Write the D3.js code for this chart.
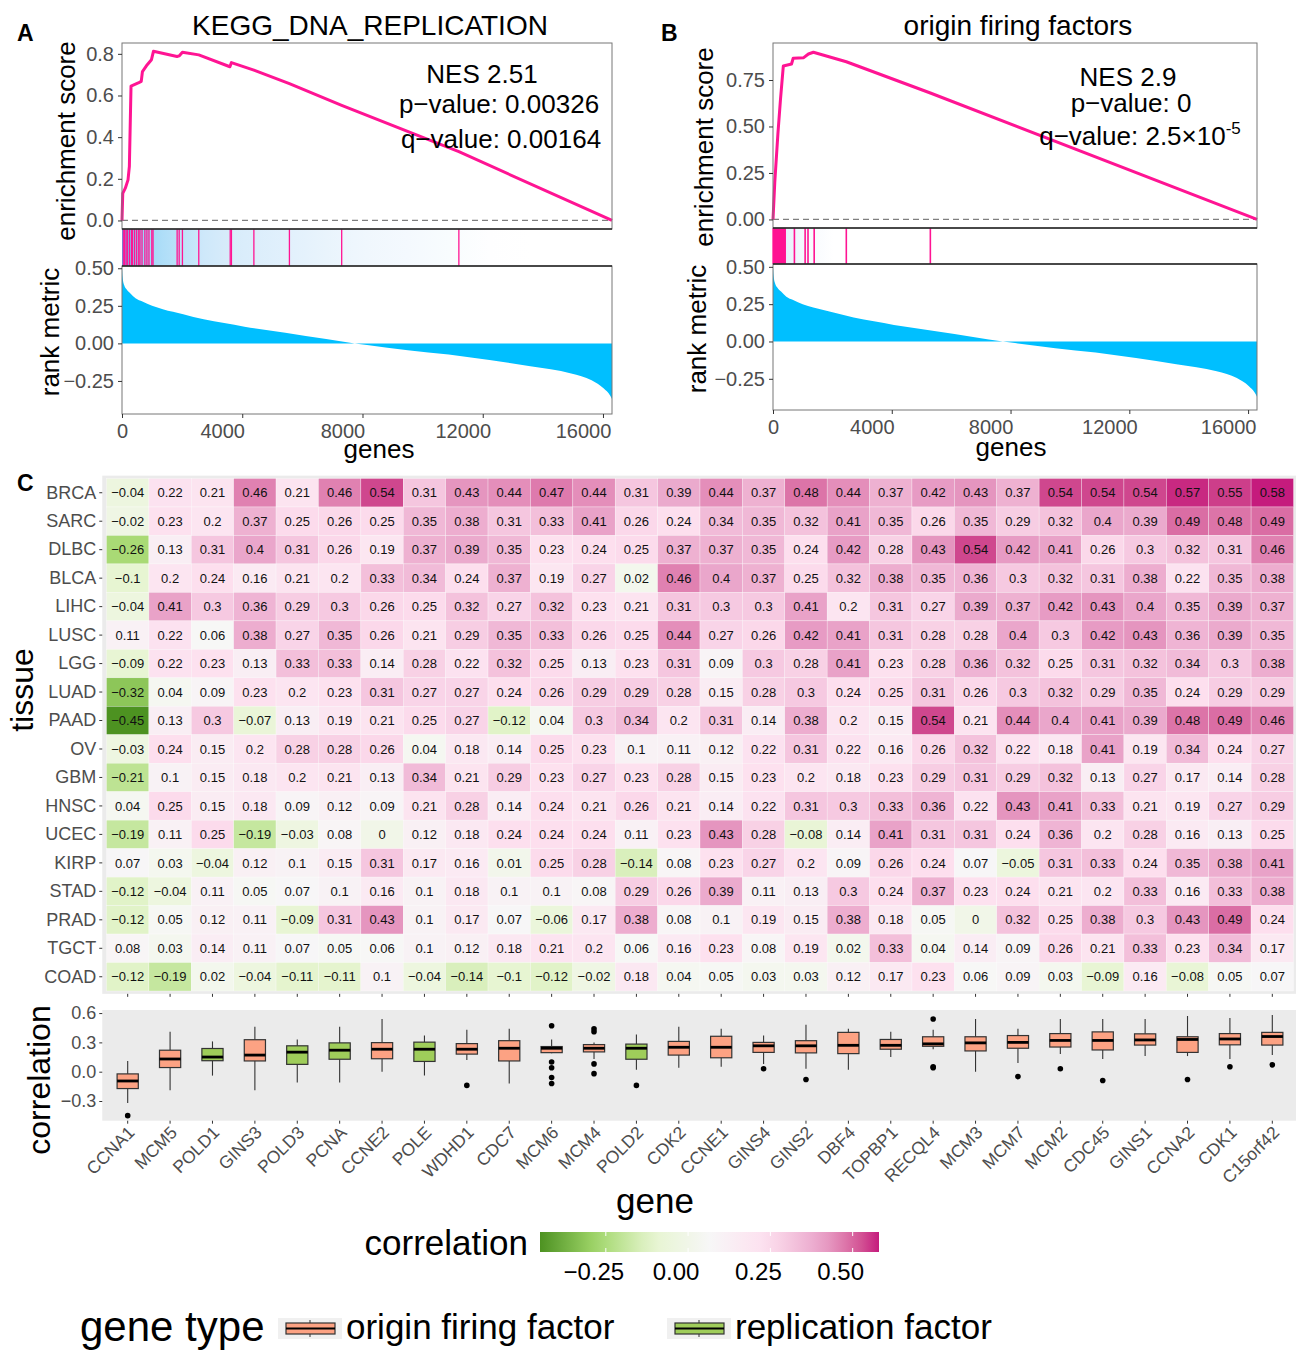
<!DOCTYPE html>
<html>
<head>
<meta charset="utf-8">
<script src="https://cdn.jsdelivr.net/npm/d3@7/dist/d3.min.js"></script>
<style>
  body { margin: 0; background: #fff; }
  text { font-family: "Liberation Sans", Arial, Helvetica, sans-serif; }
</style>
</head>
<body>
<script>
(function() {

    var totalGenes = 16300;

    var rankGene  = [0, 20, 68, 150, 272, 450, 679, 1000, 1358, 2037, 2717, 3400, 4075, 5433, 6792, 7742, 8150, 9508, 10867, 12225, 13583, 14942, 15621, 16028, 16232, 16300];
    var rankValue = [0.5, 0.44, 0.39, 0.36, 0.334, 0.30, 0.278, 0.25, 0.227, 0.194, 0.16, 0.135, 0.111, 0.071, 0.029, 0.0, -0.011, -0.045, -0.074, -0.111, -0.152, -0.2, -0.245, -0.3, -0.345, -0.37];

    var esGeneA  = [0, 25, 110, 200, 245, 300, 540, 640, 680, 840, 980, 1046, 1830, 1900, 2010, 2554, 3590, 3640, 4387, 5569, 7308, 11206, 16300];
    var esValueA = [0, 0.13, 0.155, 0.195, 0.26, 0.645, 0.66, 0.668, 0.715, 0.748, 0.772, 0.812, 0.787, 0.79, 0.808, 0.795, 0.738, 0.758, 0.722, 0.657, 0.553, 0.33, 0.0];
    var hitsA    = [41, 82, 136, 177, 245, 312, 353, 421, 489, 557, 598, 666, 761, 829, 897, 992, 1032, 1834, 1902, 2010, 2554, 3600, 3640, 4387, 5569, 7308, 11206];
    var statsA   = ['NES 2.51', 'p\u2212value: 0.00326', 'q\u2212value: 0.00164'];

    var esGeneB  = [0, 60, 166, 250, 347, 624, 680, 1034, 1193, 1360, 2469, 5299, 16300];
    var esValueB = [0, 0.2, 0.463, 0.642, 0.825, 0.836, 0.867, 0.870, 0.89, 0.899, 0.848, 0.68, 0.0];
    var hitsB    = [5, 30, 55, 80, 105, 130, 155, 180, 205, 230, 255, 280, 305, 330, 355, 380, 410, 721, 1082, 1179, 1387, 2469, 5299];
    var statsB   = ['NES 2.9', 'p\u2212value: 0', 'q\u2212value: 2.5\u00d710'];

    var geneTicks = [0, 4000, 8000, 12000, 16000];

    //  Correlation heatmap data (panel C)
    var genes = ['CCNA1', 'MCM5', 'POLD1', 'GINS3', 'POLD3', 'PCNA', 'CCNE2', 'POLE', 'WDHD1', 'CDC7', 'MCM6', 'MCM4', 'POLD2', 'CDK2',
                 'CCNE1', 'GINS4', 'GINS2', 'DBF4', 'TOPBP1', 'RECQL4', 'MCM3', 'MCM7', 'MCM2', 'CDC45', 'GINS1', 'CCNA2', 'CDK1', 'C15orf42'];
    var replicationFactors = ['POLD1', 'POLD3', 'PCNA', 'POLE', 'POLD2'];
    var tissues = ['BRCA', 'SARC', 'DLBC', 'BLCA', 'LIHC', 'LUSC', 'LGG', 'LUAD', 'PAAD', 'OV', 'GBM', 'HNSC', 'UCEC', 'KIRP', 'STAD', 'PRAD', 'TGCT', 'COAD'];

    var rowBRCA = [-0.04, 0.22, 0.21, 0.46, 0.21, 0.46, 0.54, 0.31, 0.43, 0.44, 0.47, 0.44, 0.31, 0.39, 0.44, 0.37, 0.48, 0.44, 0.37, 0.42, 0.43, 0.37, 0.54, 0.54, 0.54, 0.57, 0.55, 0.58];
    var rowSARC = [-0.02, 0.23, 0.2, 0.37, 0.25, 0.26, 0.25, 0.35, 0.38, 0.31, 0.33, 0.41, 0.26, 0.24, 0.34, 0.35, 0.32, 0.41, 0.35, 0.26, 0.35, 0.29, 0.32, 0.4, 0.39, 0.49, 0.48, 0.49];
    var rowDLBC = [-0.26, 0.13, 0.31, 0.4, 0.31, 0.26, 0.19, 0.37, 0.39, 0.35, 0.23, 0.24, 0.25, 0.37, 0.37, 0.35, 0.24, 0.42, 0.28, 0.43, 0.54, 0.42, 0.41, 0.26, 0.3, 0.32, 0.31, 0.46];
    var rowBLCA = [-0.1, 0.2, 0.24, 0.16, 0.21, 0.2, 0.33, 0.34, 0.24, 0.37, 0.19, 0.27, 0.02, 0.46, 0.4, 0.37, 0.25, 0.32, 0.38, 0.35, 0.36, 0.3, 0.32, 0.31, 0.38, 0.22, 0.35, 0.38];
    var rowLIHC = [-0.04, 0.41, 0.3, 0.36, 0.29, 0.3, 0.26, 0.25, 0.32, 0.27, 0.32, 0.23, 0.21, 0.31, 0.3, 0.3, 0.41, 0.2, 0.31, 0.27, 0.39, 0.37, 0.42, 0.43, 0.4, 0.35, 0.39, 0.37];
    var rowLUSC = [0.11, 0.22, 0.06, 0.38, 0.27, 0.35, 0.26, 0.21, 0.29, 0.35, 0.33, 0.26, 0.25, 0.44, 0.27, 0.26, 0.42, 0.41, 0.31, 0.28, 0.28, 0.4, 0.3, 0.42, 0.43, 0.36, 0.39, 0.35];
    var rowLGG  = [-0.09, 0.22, 0.23, 0.13, 0.33, 0.33, 0.14, 0.28, 0.22, 0.32, 0.25, 0.13, 0.23, 0.31, 0.09, 0.3, 0.28, 0.41, 0.23, 0.28, 0.36, 0.32, 0.25, 0.31, 0.32, 0.34, 0.3, 0.38];
    var rowLUAD = [-0.32, 0.04, 0.09, 0.23, 0.2, 0.23, 0.31, 0.27, 0.27, 0.24, 0.26, 0.29, 0.29, 0.28, 0.15, 0.28, 0.3, 0.24, 0.25, 0.31, 0.26, 0.3, 0.32, 0.29, 0.35, 0.24, 0.29, 0.29];
    var rowPAAD = [-0.45, 0.13, 0.3, -0.07, 0.13, 0.19, 0.21, 0.25, 0.27, -0.12, 0.04, 0.3, 0.34, 0.2, 0.31, 0.14, 0.38, 0.2, 0.15, 0.54, 0.21, 0.44, 0.4, 0.41, 0.39, 0.48, 0.49, 0.46];
    var rowOV   = [-0.03, 0.24, 0.15, 0.2, 0.28, 0.28, 0.26, 0.04, 0.18, 0.14, 0.25, 0.23, 0.1, 0.11, 0.12, 0.22, 0.31, 0.22, 0.16, 0.26, 0.32, 0.22, 0.18, 0.41, 0.19, 0.34, 0.24, 0.27];
    var rowGBM  = [-0.21, 0.1, 0.15, 0.18, 0.2, 0.21, 0.13, 0.34, 0.21, 0.29, 0.23, 0.27, 0.23, 0.28, 0.15, 0.23, 0.2, 0.18, 0.23, 0.29, 0.31, 0.29, 0.32, 0.13, 0.27, 0.17, 0.14, 0.28];
    var rowHNSC = [0.04, 0.25, 0.15, 0.18, 0.09, 0.12, 0.09, 0.21, 0.28, 0.14, 0.24, 0.21, 0.26, 0.21, 0.14, 0.22, 0.31, 0.3, 0.33, 0.36, 0.22, 0.43, 0.41, 0.33, 0.21, 0.19, 0.27, 0.29];
    var rowUCEC = [-0.19, 0.11, 0.25, -0.19, -0.03, 0.08, 0, 0.12, 0.18, 0.24, 0.24, 0.24, 0.11, 0.23, 0.43, 0.28, -0.08, 0.14, 0.41, 0.31, 0.31, 0.24, 0.36, 0.2, 0.28, 0.16, 0.13, 0.25];
    var rowKIRP = [0.07, 0.03, -0.04, 0.12, 0.1, 0.15, 0.31, 0.17, 0.16, 0.01, 0.25, 0.28, -0.14, 0.08, 0.23, 0.27, 0.2, 0.09, 0.26, 0.24, 0.07, -0.05, 0.31, 0.33, 0.24, 0.35, 0.38, 0.41];
    var rowSTAD = [-0.12, -0.04, 0.11, 0.05, 0.07, 0.1, 0.16, 0.1, 0.18, 0.1, 0.1, 0.08, 0.29, 0.26, 0.39, 0.11, 0.13, 0.3, 0.24, 0.37, 0.23, 0.24, 0.21, 0.2, 0.33, 0.16, 0.33, 0.38];
    var rowPRAD = [-0.12, 0.05, 0.12, 0.11, -0.09, 0.31, 0.43, 0.1, 0.17, 0.07, -0.06, 0.17, 0.38, 0.08, 0.1, 0.19, 0.15, 0.38, 0.18, 0.05, 0, 0.32, 0.25, 0.38, 0.3, 0.43, 0.49, 0.24];
    var rowTGCT = [0.08, 0.03, 0.14, 0.11, 0.07, 0.05, 0.06, 0.1, 0.12, 0.18, 0.21, 0.2, 0.06, 0.16, 0.23, 0.08, 0.19, 0.02, 0.33, 0.04, 0.14, 0.09, 0.26, 0.21, 0.33, 0.23, 0.34, 0.17];
    var rowCOAD = [-0.12, -0.19, 0.02, -0.04, -0.11, -0.11, 0.1, -0.04, -0.14, -0.1, -0.12, -0.02, 0.18, 0.04, 0.05, 0.03, 0.03, 0.12, 0.17, 0.23, 0.06, 0.09, 0.03, -0.09, 0.16, -0.08, 0.05, 0.07];

    var tissueRows = [rowBRCA, rowSARC, rowDLBC, rowBLCA, rowLIHC, rowLUSC, rowLGG, rowLUAD, rowPAAD,
                      rowOV, rowGBM, rowHNSC, rowUCEC, rowKIRP, rowSTAD, rowPRAD, rowTGCT, rowCOAD];

    var corTicks = [-0.25, 0, 0.25, 0.5];
    var boxTicks = [-0.3, 0, 0.3, 0.6];

    //  PiYG (7), reversed like scale_fill_distiller
    var palette = ['#4D9221', '#A1D76A', '#E6F5D0', '#F7F7F7', '#FDE0EF', '#E9A3C9', '#C51B7D'];
    var typeColor = { 'origin firing factor': '#fca283', 'replication factor': '#9fcd5a' };

    var greyText = '#4d4d4d';
    var svg = d3.select('body').append('svg').attr('width', 1296).attr('height', 1351);
    var defs = svg.append('defs');

    function styleAxis(g, size, color) {
        g.select('.domain').remove();
        g.selectAll('.tick line').attr('stroke', '#333').attr('stroke-width', 1);
        g.selectAll('.tick text').attr('font-size', size).attr('fill', color || greyText);
    }

    //  GSEA panel
    function drawGsea(c) {
        var g = svg.append('g');
        var x = d3.scaleLinear().domain([0, totalGenes]).range([c.left, c.right]);
        var yEs = d3.scaleLinear().domain(c.esDomain).range([c.esBottom, c.top]);
        var yRank = d3.scaleLinear().domain(c.rankDomain).range([c.rankBottom, c.stripBottom]);

        g.append('text').attr('x', c.labelX).attr('y', 41).attr('font-size', 23).attr('font-weight', 'bold').text(c.label);
        g.append('text').attr('x', c.titleX).attr('y', 35).attr('text-anchor', 'middle').attr('font-size', 28).text(c.title);

        //  strip background coloured by the rank metric
        var gradId = 'strip' + c.label;
        var grad = defs.append('linearGradient').attr('id', gradId)
            .attr('gradientUnits', 'userSpaceOnUse').attr('x1', c.left).attr('x2', c.right).attr('y1', 0).attr('y2', 0);
        rankGene.forEach(function(gn, i) {
            grad.append('stop').attr('offset', gn / totalGenes).attr('stop-color', c.stripColor(rankValue[i]));
        });
        g.append('rect').attr('x', c.left).attr('y', c.esBottom).attr('width', c.right - c.left)
            .attr('height', c.stripBottom - c.esBottom).attr('fill', 'url(#' + gradId + ')');
        g.selectAll('line.hit').data(c.hits).enter().append('line')
            .attr('x1', function(d) { return x(d); }).attr('x2', function(d) { return x(d); })
            .attr('y1', c.esBottom).attr('y2', c.stripBottom)
            .attr('stroke', '#ff1493').attr('stroke-width', c.hitWidth);

        //  rank metric area
        var pts = d3.zip(rankGene, rankValue);
        g.append('path').datum(pts)
            .attr('fill', '#00bfff')
            .attr('d', d3.area().x(function(d) { return x(d[0]); }).y0(yRank(0)).y1(function(d) { return yRank(d[1]); })
                .curve(d3.curveMonotoneX));

        //  ES curve
        g.append('line').attr('x1', c.left).attr('x2', c.right).attr('y1', yEs(0)).attr('y2', yEs(0))
            .attr('stroke', '#7f7f7f').attr('stroke-width', 1.2).attr('stroke-dasharray', '6,4');
        g.append('path').datum(d3.zip(c.esGene, c.esValue))
            .attr('fill', 'none').attr('stroke', '#ff1493').attr('stroke-width', 3).attr('stroke-linejoin', 'round')
            .attr('d', d3.line().x(function(d) { return x(d[0]); }).y(function(d) { return yEs(d[1]); }));

        //  frames
        g.append('rect').attr('x', c.left).attr('y', c.top).attr('width', c.right - c.left).attr('height', c.esBottom - c.top)
            .attr('fill', 'none').attr('stroke', '#777').attr('stroke-width', 1);
        g.append('rect').attr('x', c.left).attr('y', c.stripBottom).attr('width', c.right - c.left).attr('height', c.rankBottom - c.stripBottom)
            .attr('fill', 'none').attr('stroke', '#777').attr('stroke-width', 1);
        [c.esBottom, c.stripBottom].forEach(function(yy) {
            g.append('line').attr('x1', c.left).attr('x2', c.right).attr('y1', yy).attr('y2', yy)
                .attr('stroke', '#222').attr('stroke-width', 1.5);
        });

        //  axes
        g.append('g').attr('transform', 'translate(' + c.left + ',0)')
            .call(d3.axisLeft(yEs).tickValues(c.esTicks).tickFormat(c.esFmt).tickSize(4).tickPadding(4))
            .call(styleAxis, 20);
        g.append('g').attr('transform', 'translate(' + c.left + ',0)')
            .call(d3.axisLeft(yRank).tickValues([-0.25, 0, 0.25, 0.5]).tickFormat(d3.format('.2f')).tickSize(4).tickPadding(4))
            .call(styleAxis, 20);
        var xAxis = g.append('g').attr('transform', 'translate(0,' + c.rankBottom + ')')
            .call(d3.axisBottom(x).tickValues(geneTicks).tickFormat(d3.format('d')).tickSize(4).tickPadding(6))
            .call(styleAxis, 20);
        //  the reference sets the wider labels a little left of their ticks
        xAxis.selectAll('.tick text').attr('x', function(d) { return d === 0 ? 0 : -20; });

        g.append('text').attr('transform', 'translate(' + c.esTitleX + ',' + c.esTitleY + ') rotate(-90)')
            .attr('text-anchor', 'middle').attr('font-size', 26).text('enrichment score');
        g.append('text').attr('transform', 'translate(' + c.rankTitleX + ',' + c.rankTitleY + ') rotate(-90)')
            .attr('text-anchor', 'middle').attr('font-size', 26).text('rank metric');
        g.append('text').attr('x', c.genesX).attr('y', c.genesY).attr('text-anchor', 'middle').attr('font-size', 26).text('genes');

        //  statistics
        c.stats.forEach(function(s, i) {
            var t = g.append('text').attr('x', c.statX[i]).attr('y', c.statY[i]).attr('text-anchor', 'middle')
                .attr('font-size', 26).text(s);
            if (c.statSup && i === 2) {
                t.append('tspan').attr('font-size', 17).attr('dy', -11).text(c.statSup);
            }
        });
    }

    drawGsea({
        label: 'A', labelX: 17, title: 'KEGG_DNA_REPLICATION', titleX: 370,
        left: 122, right: 612, top: 43, esBottom: 229, stripBottom: 266, rankBottom: 414,
        esDomain: [-0.041, 0.852], esTicks: [0, 0.2, 0.4, 0.6, 0.8], esFmt: d3.format('.1f'),
        rankDomain: [-0.47, 0.515],
        esGene: esGeneA, esValue: esValueA, hits: hitsA, hitWidth: 1.3,
        stripColor: d3.scaleLinear().domain([-0.12, 0.0, 0.15, 0.3, 0.5]).range(['#ffffff', '#eef6fd', '#d3eafa', '#8dd2f6', '#00bfff']).clamp(true),
        esTitleX: 75, esTitleY: 141, rankTitleX: 59, rankTitleY: 332, genesX: 379, genesY: 458,
        stats: statsA, statX: [482, 499, 501], statY: [83, 113, 148]
    });

    drawGsea({
        label: 'B', labelX: 661, title: 'origin firing factors', titleX: 1018,
        left: 773, right: 1257, top: 43, esBottom: 228, stripBottom: 264, rankBottom: 410,
        esDomain: [-0.046, 0.949], esTicks: [0, 0.25, 0.5, 0.75], esFmt: d3.format('.2f'),
        rankDomain: [-0.459, 0.519],
        esGene: esGeneB, esValue: esValueB, hits: hitsB, hitWidth: 1.6,
        stripColor: d3.scaleLinear().domain([0.2, 0.3, 0.5]).range(['#ffffff', '#e6f2fb', '#d2e8f8']).clamp(true),
        esTitleX: 713, esTitleY: 147, rankTitleX: 706, rankTitleY: 329, genesX: 1011, genesY: 456,
        stats: statsB, statSup: '-5', statX: [1128, 1131, 1140], statY: [86, 112, 145]
    });

    //  Panel C heatmap
    var allValues = d3.merge(tissueRows);
    var lo = d3.min(allValues), hi = d3.max(allValues);
    var color = d3.scaleLinear()
        .domain(palette.map(function(d, i) { return lo + i * (hi - lo) / (palette.length - 1); }))
        .range(palette).interpolate(d3.interpolateLab);

    var xBand = d3.scaleBand().domain(genes).range([106.5, 1293.5]);
    var yBand = d3.scaleBand().domain(tissues).range([478.5, 991]);
    var bw = xBand.bandwidth(), bh = yBand.bandwidth();

    svg.append('text').attr('x', 17).attr('y', 491).attr('font-size', 23).attr('font-weight', 'bold').text('C');
    svg.append('rect').attr('x', 106.5 - 0.1 * bw).attr('y', 478.5 - 0.1 * bh)
        .attr('width', 28 * bw + 0.2 * bw).attr('height', 18 * bh + 0.2 * bh).attr('fill', '#ebebeb');

    var cells = [];
    tissues.forEach(function(t, i) {
        genes.forEach(function(gn, j) { cells.push({ tissue: t, gene: gn, value: tissueRows[i][j] }); });
    });
    var cellG = svg.append('g');
    cellG.selectAll('rect').data(cells).enter().append('rect')
        .attr('x', function(d) { return xBand(d.gene); }).attr('y', function(d) { return yBand(d.tissue); })
        .attr('width', bw).attr('height', bh)
        .attr('fill', function(d) { return color(d.value); })
        .attr('stroke', 'rgba(255,255,255,0.6)').attr('stroke-width', 0.5);
    cellG.selectAll('text').data(cells).enter().append('text')
        .attr('x', function(d) { return xBand(d.gene) + bw / 2; })
        .attr('y', function(d) { return yBand(d.tissue) + bh / 2; })
        .attr('dy', '0.36em').attr('text-anchor', 'middle').attr('font-size', 13).attr('fill', '#111')
        .text(function(d) { return d3.format('')(d.value).replace('-', '\u2212'); });

    svg.append('g').attr('transform', 'translate(' + (106.5 - 0.1 * bw) + ',0)')
        .call(d3.axisLeft(yBand).tickSize(3).tickPadding(3)).call(styleAxis, 18);
    svg.append('g').attr('transform', 'translate(0,' + (991 + 0.1 * bh) + ')')
        .call(d3.axisBottom(xBand).tickSize(3).tickFormat('')).call(styleAxis, 10);
    svg.append('text').attr('transform', 'translate(33,690) rotate(-90)').attr('text-anchor', 'middle')
        .attr('font-size', 32).text('tissue');

    //  Boxplots of the same correlations
    var yBox = d3.scaleLinear().domain([lo - 0.05 * (hi - lo), hi + 0.05 * (hi - lo)]).range([1120.7, 1010]);
    svg.append('rect').attr('x', 106.5 - 0.1 * bw).attr('y', 1010)
        .attr('width', 28 * bw + 0.2 * bw).attr('height', 110.7).attr('fill', '#ebebeb');

    var boxes = genes.map(function(gn, j) {
        var vals = tissueRows.map(function(r) { return r[j]; }).sort(d3.ascending);
        var q1 = d3.quantile(vals, 0.25), med = d3.quantile(vals, 0.5), q3 = d3.quantile(vals, 0.75);
        var iqr = q3 - q1;
        var inside = vals.filter(function(v) { return v >= q1 - 1.5 * iqr && v <= q3 + 1.5 * iqr; });
        return {
            gene: gn, q1: q1, med: med, q3: q3, lo: d3.min(inside), hi: d3.max(inside),
            out: vals.filter(function(v) { return v < q1 - 1.5 * iqr || v > q3 + 1.5 * iqr; }),
            type: replicationFactors.indexOf(gn) >= 0 ? 'replication factor' : 'origin firing factor'
        };
    });

    var boxW = bw * 0.5;
    var bg = svg.append('g').selectAll('g').data(boxes).enter().append('g')
        .attr('transform', function(d) { return 'translate(' + (xBand(d.gene) + bw / 2) + ',0)'; });
    bg.append('line').attr('y1', function(d) { return yBox(d.hi); }).attr('y2', function(d) { return yBox(d.q3); })
        .attr('stroke', '#333').attr('stroke-width', 1.1);
    bg.append('line').attr('y1', function(d) { return yBox(d.lo); }).attr('y2', function(d) { return yBox(d.q1); })
        .attr('stroke', '#333').attr('stroke-width', 1.1);
    bg.append('rect').attr('x', -boxW / 2).attr('width', boxW)
        .attr('y', function(d) { return yBox(d.q3); })
        .attr('height', function(d) { return yBox(d.q1) - yBox(d.q3); })
        .attr('fill', function(d) { return typeColor[d.type]; })
        .attr('stroke', '#333').attr('stroke-width', 1.2);
    bg.append('line').attr('x1', -boxW / 2).attr('x2', boxW / 2)
        .attr('y1', function(d) { return yBox(d.med); }).attr('y2', function(d) { return yBox(d.med); })
        .attr('stroke', '#000').attr('stroke-width', 2.8);
    bg.selectAll('circle').data(function(d) { return d.out; }).enter().append('circle')
        .attr('cy', function(d) { return yBox(d); }).attr('r', 2.8).attr('fill', '#000');

    svg.append('g').attr('transform', 'translate(' + (106.5 - 0.1 * bw) + ',0)')
        .call(d3.axisLeft(yBox).tickValues(boxTicks).tickFormat(d3.format('.1f')).tickSize(3).tickPadding(3))
        .call(styleAxis, 18);
    var xAx = svg.append('g').attr('transform', 'translate(0,1120.7)')
        .call(d3.axisBottom(xBand).tickSize(3)).call(styleAxis, 17.5);
    xAx.selectAll('.tick text')
        .attr('text-anchor', 'end').attr('x', 0).attr('y', 0).attr('dy', null)
        .attr('transform', 'translate(8,13) rotate(-45)');
    svg.append('text').attr('transform', 'translate(50,1080) rotate(-90)').attr('text-anchor', 'middle')
        .attr('font-size', 32).text('correlation');
    svg.append('text').attr('x', 655).attr('y', 1213).attr('text-anchor', 'middle').attr('font-size', 35).text('gene');

    //  Colour bar legend
    var xBar = d3.scaleLinear().domain([lo, hi]).range([540, 879]);
    var barGrad = defs.append('linearGradient').attr('id', 'corBar');
    d3.range(0, 1.0001, 0.05).forEach(function(f) {
        barGrad.append('stop').attr('offset', f).attr('stop-color', color(lo + f * (hi - lo)));
    });
    svg.append('rect').attr('x', xBar(lo)).attr('y', 1232).attr('width', xBar(hi) - xBar(lo)).attr('height', 20)
        .attr('fill', 'url(#corBar)');
    corTicks.forEach(function(t) {
        [[1232, 1236], [1248, 1252]].forEach(function(seg) {
            svg.append('line').attr('x1', xBar(t)).attr('x2', xBar(t)).attr('y1', seg[0]).attr('y2', seg[1])
                .attr('stroke', '#fff').attr('stroke-width', 1);
        });
        svg.append('text').attr('x', xBar(t) - 12).attr('y', 1280).attr('text-anchor', 'middle').attr('font-size', 24)
            .text(d3.format('.2f')(t));
    });
    svg.append('text').attr('x', 528).attr('y', 1255).attr('text-anchor', 'end').attr('font-size', 35).text('correlation');

    //  Gene type legend
    svg.append('text').attr('x', 80).attr('y', 1341).attr('font-size', 42).text('gene type');
    var keys = [
        { name: 'origin firing factor', x: 278 },
        { name: 'replication factor', x: 667 }
    ];
    keys.forEach(function(k) {
        var kg = svg.append('g').attr('transform', 'translate(' + k.x + ',1318)');
        kg.append('rect').attr('width', 64).attr('height', 21).attr('fill', '#f0f0f0');
        kg.append('line').attr('x1', 32).attr('x2', 32).attr('y1', 2).attr('y2', 19).attr('stroke', '#333').attr('stroke-width', 1);
        kg.append('rect').attr('x', 8).attr('y', 5).attr('width', 49).attr('height', 11)
            .attr('fill', typeColor[k.name]).attr('stroke', '#333').attr('stroke-width', 1.2);
        kg.append('line').attr('x1', 8).attr('x2', 57).attr('y1', 10.5).attr('y2', 10.5).attr('stroke', '#000').attr('stroke-width', 2);
        svg.append('text').attr('x', k.x + 68).attr('y', 1339).attr('font-size', 35).text(k.name);
    });

})();
</script>
</body>
</html>
